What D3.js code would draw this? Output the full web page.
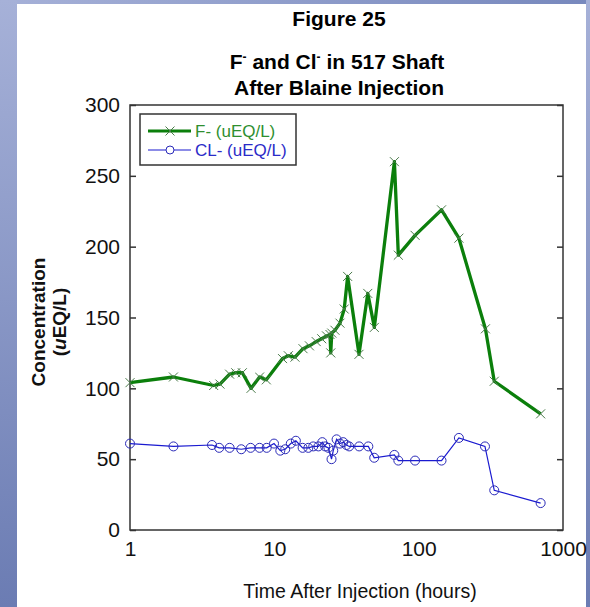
<!DOCTYPE html>
<html>
<head>
<meta charset="utf-8">
<script src="https://cdn.jsdelivr.net/npm/d3@7"></script>
<style>
  html, body { margin: 0; padding: 0; background: #fff; }
  svg { display: block; font-family: "Liberation Sans", Arial, sans-serif; }
</style>
</head>
<body>
<div id="chart"></div>
<script>
// F- series (hours, uEQ/L)
const fTimes = [1, 2, 3.8, 4.2, 4.9, 5.4, 6.0, 6.9, 7.9, 8.8, 11.4, 12.5, 13.9, 15.8, 17.5, 19.5, 21.3, 23.0, 24.3, 24.6, 25.0, 26.3, 28.5, 30.5, 32.2, 38.6, 44.4, 49.3, 67.9, 72.3, 94.4, 144, 190, 290, 334, 700];
const fValues = [104, 108, 102, 103, 110, 111, 111, 100, 108, 106, 121, 123, 122, 128, 130, 133, 135, 137, 138, 125, 139, 141, 146, 156, 179, 124, 167, 143, 260, 194, 208, 226, 206, 142, 105, 82];

// CL- series
const clTimes = [1, 2, 3.7, 4.15, 4.9, 5.9, 6.85, 7.9, 8.85, 9.95, 11.0, 11.9, 13.0, 14.1, 15.7, 17.2, 18.6, 20.2, 21.5, 22.5, 23.7, 24.9, 25.6, 27.0, 28.5, 30.0, 31.6, 33.0, 38.7, 44.8, 49.2, 67.9, 72.3, 94.4, 144, 190, 288, 334, 700];
const clValues = [61, 59, 60, 58, 58, 57, 58, 58, 58, 61, 56, 57, 61, 63, 58, 58, 59, 59, 62, 59, 58, 50, 56, 64, 61, 62, 60, 59, 59, 59, 51, 53, 49, 49, 49, 65, 59, 28, 19];

const xTicks = [1, 10, 100, 1000];
const yTicks = [0, 50, 100, 150, 200, 250, 300];
const seriesNames = ['F- (uEQ/L)', 'CL- (uEQ/L)'];

const W = 590, H = 607;
const plot = { left: 130, right: 563, top: 105, bottom: 530 };

const svg = d3.select('#chart').append('svg')
    .attr('width', W)
    .attr('height', H);

// slide background bands
const defs = svg.append('defs');
const gv = defs.append('linearGradient').attr('id', 'bandV')
    .attr('x1', 0).attr('y1', 0).attr('x2', 0).attr('y2', 1);
gv.append('stop').attr('offset', '0%').attr('stop-color', '#a6b1d8');
gv.append('stop').attr('offset', '100%').attr('stop-color', '#6b7cb3');
const gh = defs.append('linearGradient').attr('id', 'bandH')
    .attr('x1', 0).attr('y1', 0).attr('x2', 1).attr('y2', 0);
gh.append('stop').attr('offset', '0%').attr('stop-color', '#a6b1d8');
gh.append('stop').attr('offset', '100%').attr('stop-color', '#7788bd');

svg.append('rect').attr('x', 0).attr('y', 0).attr('width', W).attr('height', H).attr('fill', '#fff');
svg.append('rect').attr('x', 0).attr('y', 0).attr('width', W).attr('height', 4).attr('fill', 'url(#bandH)');
svg.append('rect').attr('x', 0).attr('y', 0).attr('width', 17).attr('height', H).attr('fill', 'url(#bandV)');
svg.append('rect').attr('x', 586).attr('y', 0).attr('width', 4).attr('height', H).attr('fill', 'url(#bandV)');

const x = d3.scaleLog().domain([1, 1000]).range([plot.left, plot.right]);
const y = d3.scaleLinear().domain([0, 300]).range([plot.bottom, plot.top]);

// titles
const cx = 339;
svg.append('text').attr('x', cx).attr('y', 26).attr('text-anchor', 'middle')
    .style('font-size', '21px').style('font-weight', 'bold').text('Figure 25');
const t2 = svg.append('text').attr('x', cx - 2).attr('y', 69).attr('text-anchor', 'middle')
    .style('font-size', '21px').style('font-weight', 'bold');
t2.append('tspan').text('F');
t2.append('tspan').attr('dy', -8).style('font-size', '12px').text('-');
t2.append('tspan').attr('dy', 8).text(' and Cl');
t2.append('tspan').attr('dy', -8).style('font-size', '12px').text('-');
t2.append('tspan').attr('dy', 8).text(' in 517 Shaft');
svg.append('text').attr('x', cx).attr('y', 95).attr('text-anchor', 'middle')
    .style('font-size', '21px').style('font-weight', 'bold').text('After Blaine Injection');

// frame
svg.append('rect')
    .attr('x', plot.left).attr('y', plot.top)
    .attr('width', plot.right - plot.left).attr('height', plot.bottom - plot.top)
    .attr('fill', '#fff').attr('stroke', '#333').attr('stroke-width', 1.5);

// y axis (ticks inside, both sides)
const yAxisL = d3.axisLeft(y).tickValues(yTicks).tickSize(-6).tickPadding(10);
const gyl = svg.append('g').attr('transform', `translate(${plot.left},0)`).call(yAxisL);
gyl.select('.domain').remove();
gyl.selectAll('line').attr('stroke', '#333').attr('stroke-width', 1.5);
gyl.selectAll('text').style('font-size', '21px').attr('fill', '#111');

const yAxisR = d3.axisRight(y).tickValues(yTicks).tickSize(-6).tickFormat('');
const gyr = svg.append('g').attr('transform', `translate(${plot.right},0)`).call(yAxisR);
gyr.select('.domain').remove();
gyr.selectAll('line').attr('stroke', '#333').attr('stroke-width', 1.5);

// x axis labels
const xAxis = d3.axisBottom(x).tickValues(xTicks).tickSize(0).tickPadding(11).tickFormat(d3.format('d'));
const gx = svg.append('g').attr('transform', `translate(0,${plot.bottom})`).call(xAxis);
gx.select('.domain').remove();
gx.selectAll('text').style('font-size', '21px').attr('fill', '#111');

// axis titles
svg.append('text').attr('x', 360).attr('y', 598).attr('text-anchor', 'middle')
    .style('font-size', '19.5px').attr('fill', '#111').text('Time After Injection (hours)');
const yt = svg.append('g').attr('transform', 'translate(38,322) rotate(-90)');
yt.append('text').attr('text-anchor', 'middle').attr('dy', '0.35em')
    .style('font-size', '19px').style('font-weight', 'bold').attr('fill', '#111').text('Concentration');
const yt2 = yt.append('text').attr('text-anchor', 'middle').attr('y', 21).attr('dy', '0.35em')
    .style('font-size', '19px').style('font-weight', 'bold').attr('fill', '#111');
yt2.append('tspan').text('(');
yt2.append('tspan').style('font-style', 'italic').text('u');
yt2.append('tspan').text('EQ/L)');

// series
const fData = fTimes.map((t, i) => ({ t, v: fValues[i] }));
const clData = clTimes.map((t, i) => ({ t, v: clValues[i] }));
const line = d3.line().x(d => x(d.t)).y(d => y(d.v));

const fColor = '#0b7f0b', fMark = '#4a7a4a';
const clColor = '#1a1ad0', clMark = '#2a2ab8';

svg.append('path').datum(clData).attr('d', line)
    .attr('fill', 'none').attr('stroke', clColor).attr('stroke-width', 1.2);
svg.selectAll('.clm').data(clData).enter().append('circle')
    .attr('class', 'clm')
    .attr('cx', d => x(d.t)).attr('cy', d => y(d.v)).attr('r', 4.5)
    .attr('fill', 'none').attr('stroke', clMark).attr('stroke-width', 1);

svg.append('path').datum(fData).attr('d', line)
    .attr('fill', 'none').attr('stroke', fColor).attr('stroke-width', 3.3)
    .attr('stroke-linejoin', 'round');
const xs = 4.5;
svg.selectAll('.fm').data(fData).enter().append('path')
    .attr('class', 'fm')
    .attr('d', d => {
        const px = x(d.t), py = y(d.v);
        return `M${px - xs},${py - xs}L${px + xs},${py + xs}M${px - xs},${py + xs}L${px + xs},${py - xs}`;
    })
    .attr('stroke', fMark).attr('stroke-width', 1);

// legend
const lg = svg.append('g');
lg.append('rect').attr('x', 140).attr('y', 114).attr('width', 156).attr('height', 51)
    .attr('fill', '#fff').attr('stroke', '#333').attr('stroke-width', 1.5);
const rows = [
    { name: seriesNames[0], color: fColor, width: 3, y: 131 },
    { name: seriesNames[1], color: clColor, width: 1.2, y: 150 }
];
rows.forEach((r, i) => {
    lg.append('line').attr('x1', 148).attr('x2', 191).attr('y1', r.y).attr('y2', r.y)
        .attr('stroke', r.color).attr('stroke-width', r.width);
    if (i === 0) {
        lg.append('path')
            .attr('d', `M${170 - xs},${r.y - xs}L${170 + xs},${r.y + xs}M${170 - xs},${r.y + xs}L${170 + xs},${r.y - xs}`)
            .attr('stroke', fMark).attr('stroke-width', 1);
    } else {
        lg.append('circle').attr('cx', 170).attr('cy', r.y).attr('r', 4)
            .attr('fill', '#fff').attr('stroke', clMark).attr('stroke-width', 1);
    }
    lg.append('text').attr('x', 195).attr('y', r.y).attr('dy', '0.35em')
        .style('font-size', '17px').attr('fill', i === 0 ? '#2f8f2f' : '#2b2bc8')
        .text(r.name);
});
</script>
</body>
</html>
